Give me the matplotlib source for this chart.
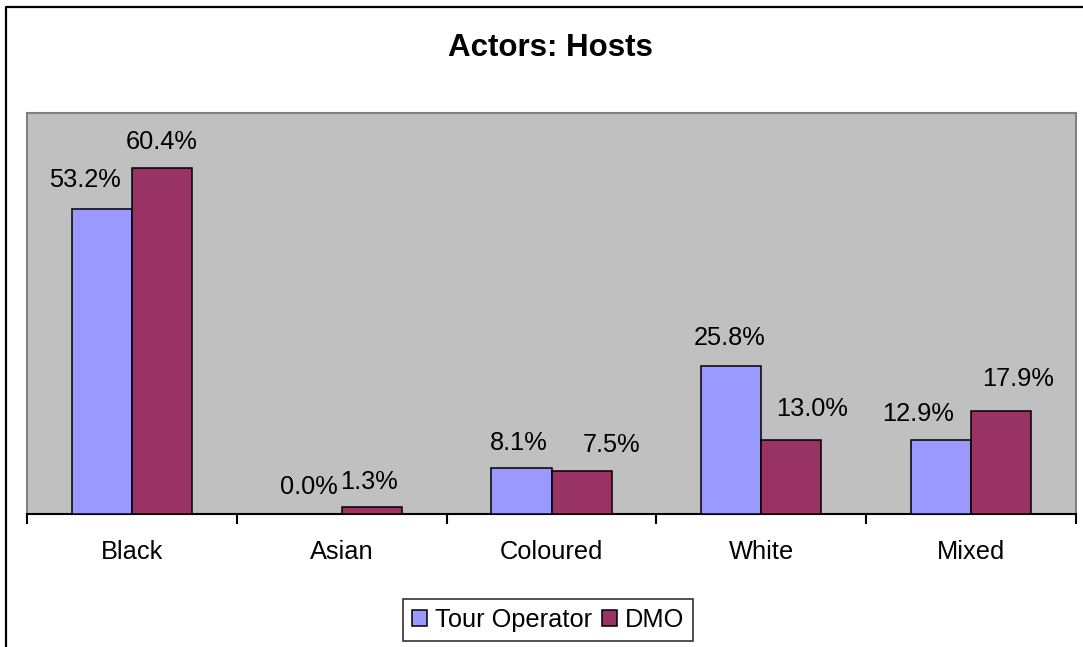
import matplotlib
matplotlib.use("Agg")
import matplotlib.pyplot as plt
from matplotlib.lines import Line2D
import numpy as np

categories = ["Black", "Asian", "Coloured", "White", "Mixed"]
tour_operator = [53.2, 0.0, 8.1, 25.8, 12.9]
dmo = [60.4, 1.3, 7.5, 13.0, 17.9]
series_names = ["Tour Operator", "DMO"]
title = "Actors: Hosts"

# label placement offsets (pixels) – layout only
to_dx = [-17, -3, -3, -2, -23]
to_dy = [29, 27, 25, 28, 26]
dmo_dx = [0, -3, 30, 21, 17]
dmo_dy = [26, 25, 26, 31, 32]

plt.rcParams['font.family'] = ['Liberation Sans', 'DejaVu Sans']

W, H = 1083, 647
fig = plt.figure(figsize=(W / 100, H / 100), dpi=100)
fig.patch.set_facecolor('white')

ax = fig.add_axes([27 / W, 1 - 514 / H, (1076 - 27) / W, (514 - 113) / H])
ax.set_facecolor('#C0C0C0')

x = np.arange(len(categories))
bw = 0.286
c1, c2 = '#9999FF', '#993366'
b1 = ax.bar(x - bw / 2, tour_operator, bw, color=c1, edgecolor='black', linewidth=1.1, label=series_names[0], zorder=3)
b2 = ax.bar(x + bw / 2, dmo, bw, color=c2, edgecolor='black', linewidth=1.1, label=series_names[1], zorder=3)

for i in range(len(categories)):
    ax.annotate(f"{tour_operator[i]:.1f}%", (x[i] - bw / 2, tour_operator[i]),
                xytext=(to_dx[i], to_dy[i]), textcoords='offset pixels',
                ha='center', va='center', fontsize=18.3, zorder=5)
    ax.annotate(f"{dmo[i]:.1f}%", (x[i] + bw / 2, dmo[i]),
                xytext=(dmo_dx[i], dmo_dy[i]), textcoords='offset pixels',
                ha='center', va='center', fontsize=18.3, zorder=5)

ax.set_xlim(-0.5, len(categories) - 0.5)
ax.set_ylim(0, 70)
ax.set_yticks([])
ax.set_xticks(np.arange(len(categories) + 1) - 0.5)
ax.set_xticklabels([])
ax.set_xticks(x, minor=True)
ax.set_xticklabels(categories, minor=True, fontsize=18.3)
ax.tick_params(axis='x', which='major', length=7, width=1.5, direction='out', color='black')
ax.tick_params(axis='x', which='minor', length=0, pad=19)
for s in ['top', 'right', 'left']:
    ax.spines[s].set_color('#808080')
    ax.spines[s].set_linewidth(1.5)
ax.spines['bottom'].set_color('black')
ax.spines['bottom'].set_linewidth(1.5)

fig.text(550 / W, 1 - 48 / H, title, ha='center', va='center', fontsize=22.5, fontweight='bold')

leg = fig.legend(handles=[b1, b2], loc='center', bbox_to_anchor=(548 / W, 1 - 620 / H),
                 ncol=2, fontsize=18.3, frameon=True, fancybox=False, edgecolor='black',
                 handlelength=0.6, handleheight=0.6, handletextpad=0.3, columnspacing=0.4,
                 borderpad=0.35, borderaxespad=0)
leg.get_frame().set_linewidth(1.2)

# outer chart border (top and left visible)
fig.add_artist(Line2D([6 / W, 6 / W, 1.0], [0.0, 1 - 7 / H, 1 - 7 / H], transform=fig.transFigure,
                      color='black', linewidth=1.6))

fig.savefig('out.png', dpi=100, facecolor='white')
